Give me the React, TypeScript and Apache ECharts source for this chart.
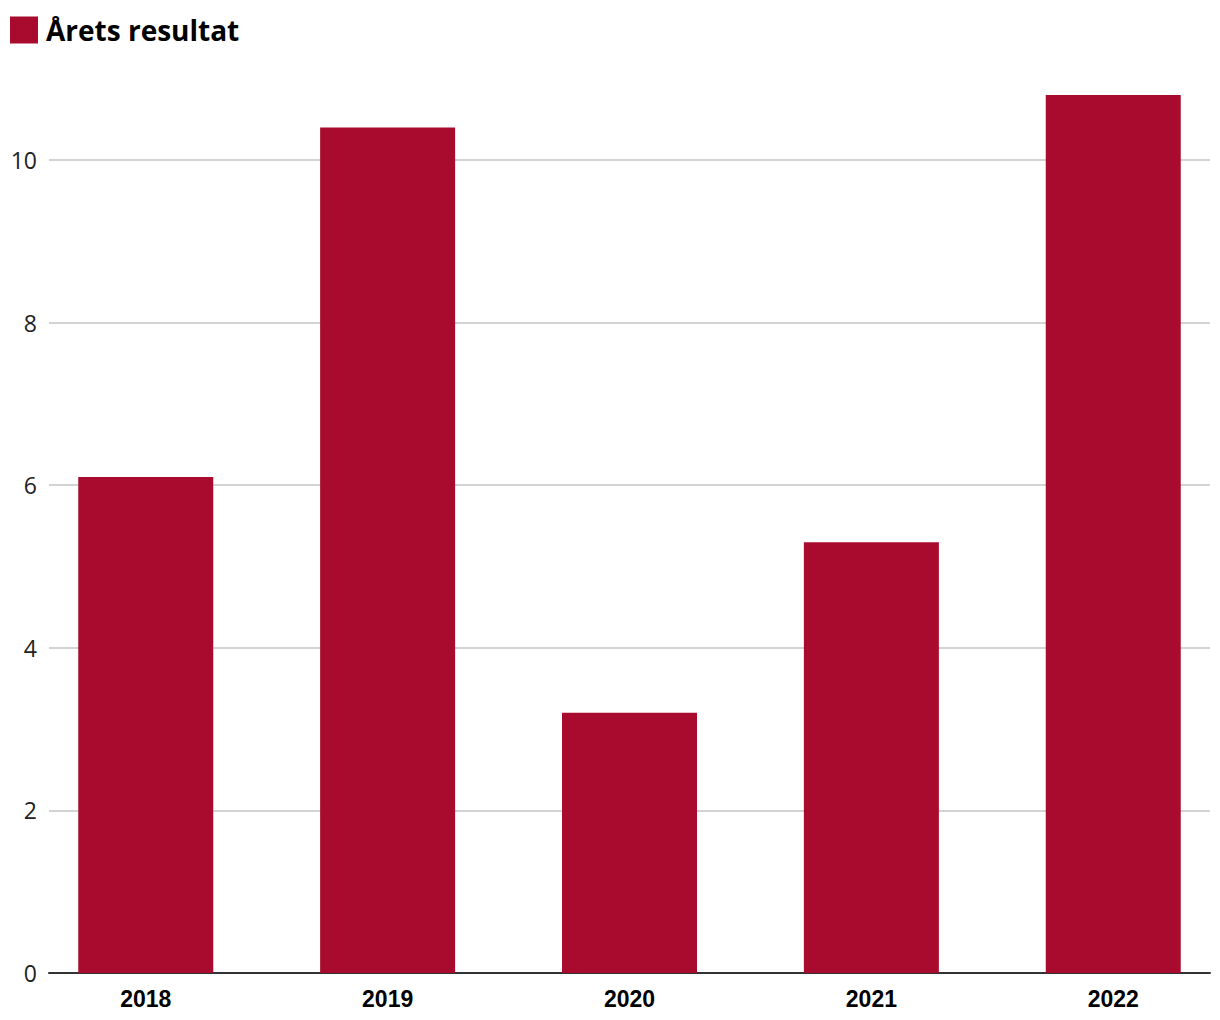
import React, { useEffect, useRef } from "react";
import * as echarts from "echarts";

const categories = ["2018", "2019", "2020", "2021", "2022"];
const values = [6.1, 10.4, 3.2, 5.3, 10.8];
const seriesName = "Årets resultat";
const yTicks = [0, 2, 4, 6, 8, 10];

export default function App() {
  const ref = useRef<HTMLDivElement>(null);
  useEffect(() => {
    if (!ref.current) return;
    const chart = echarts.init(ref.current, null, { renderer: "svg" });
    chart.setOption({
      animation: false,
      grid: { left: 49, right: 10, top: 95, bottom: 47, containLabel: false },
      legend: {
        show: true,
        left: 5,
        top: 11,
        icon: "rect",
        itemWidth: 28,
        itemHeight: 27,
        itemGap: 10,
        textStyle: {
          fontFamily: "Open Sans",
          fontWeight: "bold",
          fontSize: 28,
          color: "#000",
          padding: [0, 0, 0, 3],
        },
        data: [seriesName],
      },
      xAxis: {
        type: "value",
        min: -0.4,
        max: 4.4,
        axisLine: { show: true, onZero: false, lineStyle: { color: "#333", width: 2 } },
        axisTick: { show: false },
        splitLine: { show: false },
        axisLabel: {
          customValues: categories.map((_, i) => i),
          formatter: (v: number) => categories[Math.round(v)] ?? "",
          margin: 14,
          fontFamily: "Liberation Sans",
          fontWeight: "bold",
          fontSize: 23,
          color: "#000",
        },
      },
      yAxis: {
        type: "value",
        min: 0,
        max: 10.8,
        interval: 2,
        axisLine: { show: false },
        axisTick: { show: false },
        splitLine: { show: true, showMaxLine: false, lineStyle: { color: "#c4c4c4", width: 1.5 } },
        axisLabel: {
          customValues: yTicks,
          margin: 12,
          fontFamily: "Open Sans",
          fontSize: 23,
          color: "#222",
        },
      },
      series: [
        {
          name: seriesName,
          type: "bar",
          barWidth: 135,
          itemStyle: { color: "#a90b2e" },
          data: values.map((v, i) => [i, v]),
        },
      ],
    });
    return () => chart.dispose();
  }, []);
  return <div ref={ref} style={{ width: 1220, height: 1020, position: "absolute", left: 0, top: 0 }} />;
}
